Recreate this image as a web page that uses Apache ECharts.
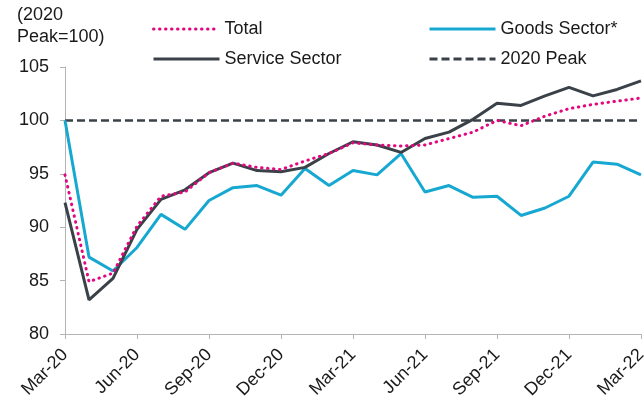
<!DOCTYPE html>
<html><head><meta charset="utf-8">
<script src="https://cdn.jsdelivr.net/npm/echarts@6/dist/echarts.min.js"></script>
<style>html,body{margin:0;padding:0;background:#fff}#c{width:644px;height:402px}</style>
</head><body><div id="c"></div>
<script>
const months = ['Mar-20','Apr-20','May-20','Jun-20','Jul-20','Aug-20','Sep-20','Oct-20','Nov-20','Dec-20','Jan-21','Feb-21','Mar-21','Apr-21','May-21','Jun-21','Jul-21','Aug-21','Sep-21','Oct-21','Nov-21','Dec-21','Jan-22','Feb-22','Mar-22'];
const totalValues = [94.9,84.9,85.7,90.1,92.9,93.3,95.1,96.0,95.6,95.4,96.2,96.9,97.9,97.7,97.6,97.7,98.3,98.9,100.0,99.5,100.4,101.1,101.5,101.8,102.1];
const goodsValues = [100.0,87.2,85.9,88.1,91.2,89.8,92.5,93.7,93.9,93.0,95.5,93.9,95.3,94.9,96.9,93.3,93.9,92.8,92.9,91.1,91.8,92.9,96.1,95.9,94.9];
const serviceValues = [92.3,83.2,85.2,89.8,92.6,93.5,95.1,96.0,95.3,95.2,95.6,96.9,98.0,97.7,97.0,98.3,98.9,100.1,101.6,101.4,102.3,103.1,102.3,102.9,103.7];
const peakValues = [100,100,100,100,100,100,100,100,100,100,100,100,100,100,100,100,100,100,100,100,100,100,100,100,100];
const yTicks = {min: 80, max: 105, step: 5};

const FONT = 'Liberation Sans, Arial, sans-serif';
const C_TOTAL = '#e2067f', C_GOODS = '#16a8d1', C_SERV = '#3a4148', C_AXIS = '#b4b4b4';
const chart = echarts.init(document.getElementById('c'), null, {renderer: 'canvas'});
const legendBase = {itemWidth: 66, itemHeight: 14, itemGap: 9, itemStyle: {opacity: 0}, lineStyle: {width: 3},
  textStyle: {fontFamily: FONT, fontSize: 18, color: '#1a1a1a'}};
chart.setOption({
  animation: false,
  title: {text: '(2020\nPeak=100)', left: 12, top: -1, textStyle: {fontFamily: FONT, fontSize: 18, fontWeight: 'normal', color: '#1a1a1a', lineHeight: 22}},
  legend: [
    Object.assign({}, legendBase, {left: 147, top: 15, data: ['Total']}),
    Object.assign({}, legendBase, {left: 423, top: 15, data: ['Goods Sector*']}),
    Object.assign({}, legendBase, {left: 147, top: 45, data: ['Service Sector']}),
    Object.assign({}, legendBase, {left: 423, top: 45, data: ['2020 Peak']})
  ],
  grid: {left: 65, right: 3, top: 67, bottom: 68, containLabel: false, outerBoundsMode: 'none'},
  xAxis: {
    type: 'category', data: months, boundaryGap: false,
    axisLine: {lineStyle: {color: C_AXIS, width: 1}},
    axisTick: {interval: 2, length: 5, lineStyle: {color: C_AXIS}},
    axisLabel: {interval: 2, rotate: 45, fontFamily: FONT, fontSize: 18, color: '#1a1a1a', margin: 18}
  },
  yAxis: {
    type: 'value', min: yTicks.min, max: yTicks.max, interval: yTicks.step,
    splitLine: {show: false},
    axisLine: {show: true, lineStyle: {color: C_AXIS, width: 1}},
    axisTick: {show: true, length: 5, lineStyle: {color: C_AXIS}},
    axisLabel: {fontFamily: FONT, fontSize: 18, color: '#1a1a1a', margin: 16}
  },
  series: [
    {name: 'Total', type: 'line', data: totalValues, symbol: 'none', z: 4,
     lineStyle: {color: C_TOTAL, width: 3, type: [0.5, 5.5], cap: 'round'}, itemStyle: {color: C_TOTAL}},
    {name: 'Goods Sector*', type: 'line', data: goodsValues, symbol: 'none', z: 2,
     lineStyle: {color: C_GOODS, width: 3}, itemStyle: {color: C_GOODS}},
    {name: 'Service Sector', type: 'line', data: serviceValues, symbol: 'none', z: 3,
     lineStyle: {color: C_SERV, width: 3}, itemStyle: {color: C_SERV}},
    {name: '2020 Peak', type: 'line', data: peakValues, symbol: 'none', z: 1,
     lineStyle: {color: C_SERV, width: 2.5, type: [8, 4]}, itemStyle: {color: C_SERV}}
  ]
});
</script></body></html>
